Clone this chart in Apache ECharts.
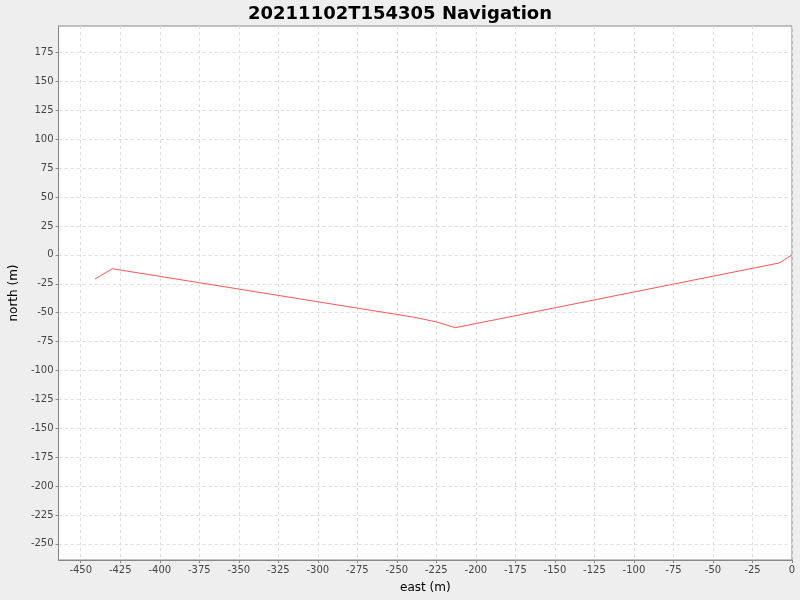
<!DOCTYPE html><html><head><meta charset="utf-8">
<script src="https://cdn.jsdelivr.net/npm/echarts@6/dist/echarts.min.js"></script>
<style>body{margin:0;background:#eeeeee}#c{width:800px;height:600px}</style></head><body><div id="c"></div>
<script>
const east = [-441, -430, -239, -225, -213, -8, 0];
const north = [-21, -12, -54, -58, -63, -7, 0];
const xTicks = []; for (let v = -450; v <= 0; v += 25) xTicks.push(v);
const yTicks = []; for (let v = -250; v <= 175; v += 25) yTicks.push(v);
const chart = echarts.init(document.getElementById('c'));
const gridLine = {show:true, lineStyle:{color:'#dddddd', type:[3,3], width:1}};
chart.setOption({
  backgroundColor:'#eeeeee',
  animation:false,
  title:{text:'20211102T154305 Navigation', left:'center', top:0, textStyle:{fontFamily:'DejaVu Sans', fontWeight:'bold', fontSize:18, color:'#000'}},
  grid:{left:57, right:8, top:26, bottom:40, show:true, backgroundColor:'#ffffff', borderColor:'#888888', borderWidth:1},
  xAxis:{type:'value', min:-464, max:0, name:'east (m)', nameLocation:'middle', nameGap:22,
    nameTextStyle:{fontFamily:'DejaVu Sans', fontSize:12, color:'#000'},
    axisLine:{show:true, onZero:false, lineStyle:{color:'#888'}},
    axisTick:{show:true, customValues:xTicks, length:3, lineStyle:{color:'#888'}},
    axisLabel:{customValues:xTicks, fontFamily:'DejaVu Sans', fontSize:10, color:'#444', margin:5},
    splitLine:gridLine},
  yAxis:{type:'value', min:-264, max:198, name:'north (m)', nameLocation:'middle', nameGap:38,
    nameTextStyle:{fontFamily:'DejaVu Sans', fontSize:12, color:'#000'},
    axisLine:{show:true, onZero:false, lineStyle:{color:'#888'}},
    axisTick:{show:true, customValues:yTicks, length:3, lineStyle:{color:'#888'}},
    axisLabel:{customValues:yTicks, fontFamily:'DejaVu Sans', fontSize:10, color:'#444', margin:5},
    splitLine:gridLine},
  series:[{type:'line', data:east.map((e,i)=>[e, north[i]]), showSymbol:false, lineStyle:{color:'#ff5555', width:1}}]
});
</script></body></html>
